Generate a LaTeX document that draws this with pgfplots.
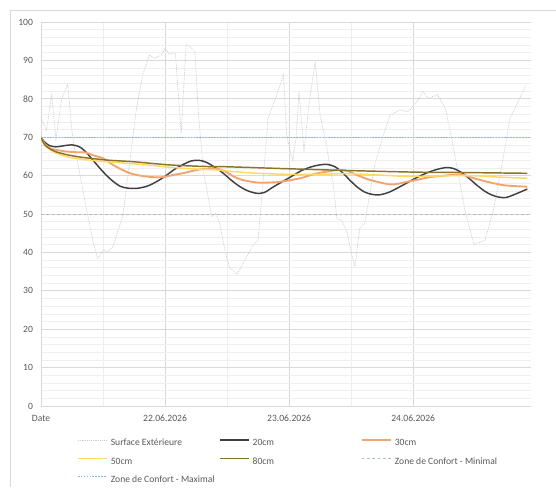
\documentclass[border=0pt]{standalone}
\usepackage{pgfplots}
\pgfplotsset{compat=1.18}
\usepackage{fontspec}
\setmainfont{Carlito}
\definecolor{txt}{HTML}{595959}
\definecolor{gmaj}{HTML}{D9D9D9}
\definecolor{gmin}{HTML}{EFEFEF}
\definecolor{csurf}{HTML}{CCCCCC}
\definecolor{c20}{HTML}{404040}
\definecolor{c30}{HTML}{F2A46F}
\definecolor{c50}{HTML}{FFD966}
\definecolor{c80}{HTML}{8C7426}
\definecolor{cmin}{HTML}{A9BCD9}
\definecolor{cmax}{HTML}{8DB8E6}
\begin{document}
\begin{tikzpicture}
\useasboundingbox (0pt,0pt) rectangle (417pt,365.25pt);
\draw[gmaj,line width=0.6pt] (7.5pt,0pt) -- (7.5pt,357.75pt) -- (417pt,357.75pt);
\begin{axis}[
  scale only axis,
  width=367.5pt, height=288pt,
  at={(30.75pt,60.75pt)}, anchor=south west,
  xmin=0, xmax=3.95, ymin=0, ymax=100,
  xtick={0,1,2,3},
  xticklabels={Date,22.06.2026,23.06.2026,24.06.2026},
  minor x tick num=1,
  ytick={0,10,...,100},
  minor y tick num=4,
  grid=both,
  major grid style={draw=gmaj,line width=0.6pt},
  minor grid style={draw=gmin,line width=0.5pt},
  axis lines*=left,
  axis line style={draw=gmaj,line width=0.6pt},
  major tick length=0pt, minor tick length=0pt,
  /pgf/number format/assume math mode=true,
  tick label style={font=\fontsize{7.2}{8.5}\selectfont, text=txt},
  yticklabel style={xshift=-2.5pt},
  xticklabel style={yshift=-3.5pt},
  legend columns=3,
  legend cell align=left,
  legend style={at={(axis description cs:0.073,-0.085)}, anchor=north west,
    draw=none, fill=none, inner sep=0pt,
    font=\fontsize{7.2}{8.5}\selectfont, text=txt,
    nodes={inner sep=0pt, text height=5.2pt, text depth=1.4pt},
    row sep=7.2pt,
    /tikz/every odd column/.append style={column sep=2.5pt}},
  legend image code/.code={\draw[#1] (0pt,2.5pt) -- (21.75pt,2.5pt);},
]
\addplot[csurf, line width=0.5pt, dash pattern=on 0.7pt off 0.7pt] coordinates {
(0,75) (0.045,71.9) (0.086,81.4) (0.12,69.5) (0.167,80.1) (0.215,83.8) (0.255,69.8)
(0.31,61) (0.36,52.3) (0.42,42.8) (0.457,38.3) (0.50,40.6) (0.54,40.2) (0.58,41.5)
(0.66,49.7) (0.74,69.8) (0.77,77.6) (0.82,86.2) (0.873,91.4) (0.914,90.5) (0.97,91.4)
(1.0,93.1) (1.035,91.6) (1.083,92) (1.13,71) (1.17,94.2) (1.20,93.6) (1.24,92.3)
(1.27,75.8) (1.31,61) (1.377,49.3) (1.41,50.2) (1.44,47.6) (1.48,41) (1.52,36)
(1.58,34.4) (1.63,37.2) (1.71,41.9) (1.75,43.2) (1.79,58.4) (1.83,74.9) (1.90,81)
(1.955,86.2) (1.98,70.6) (2.01,66.2) (2.03,64) (2.056,69.8) (2.08,82) (2.12,66.2)
(2.16,78.4) (2.21,89.7) (2.25,75.8) (2.30,68) (2.36,56.7) (2.385,48.7) (2.425,48.4)
(2.465,45.4) (2.506,39.3) (2.53,36.3) (2.57,46.3) (2.61,47.6) (2.69,62.8) (2.76,70.6)
(2.815,75.8) (2.895,77.1) (2.96,76.6) (3.03,79.3) (3.08,81.9) (3.12,80.1) (3.196,81.1)
(3.26,77.5) (3.31,69.7) (3.365,60.2) (3.42,50.6) (3.49,42.1) (3.55,42.8) (3.58,43.2)
(3.65,51.4) (3.73,65.4) (3.78,74.9) (3.84,78.8) (3.91,83.6)
};
\addlegendentry{\makebox[81pt][l]{Surface Extérieure}}
\addplot[c20, line width=1.1pt, smooth] coordinates {
(0,70) (0.03,68.7) (0.07,67.8) (0.12,67.5) (0.19,67.8) (0.25,68.0) (0.31,67.5)
(0.36,66.2) (0.43,63.6) (0.50,61.0) (0.57,58.8) (0.64,57.2) (0.71,56.7) (0.78,56.7)
(0.86,57.3) (0.93,58.4) (1.00,59.8) (1.07,61.5) (1.14,62.8) (1.21,63.8) (1.27,64.0)
(1.33,63.5) (1.40,62.2) (1.47,60.6) (1.53,58.9) (1.60,57.2) (1.67,56.0) (1.74,55.4)
(1.80,55.6) (1.87,57.0) (1.95,58.5) (2.03,60.0) (2.10,61.3) (2.18,62.3) (2.25,62.8)
(2.31,62.9) (2.37,62.3) (2.43,60.8) (2.49,58.8) (2.55,57.0) (2.61,55.7) (2.67,55.1)
(2.73,55.0) (2.80,55.6) (2.87,56.7) (2.95,58.1) (3.03,59.5) (3.11,60.7) (3.19,61.6)
(3.27,62.1) (3.33,61.8) (3.39,60.8) (3.45,59.3) (3.51,57.6) (3.57,56.1) (3.63,55.0)
(3.69,54.4) (3.75,54.3) (3.81,55.0) (3.87,55.8) (3.92,56.5)
};
\addlegendentry{\makebox[81pt][l]{20cm}}
\addplot[c30, line width=1.4pt, smooth] coordinates {
(0,70) (0.03,68.2) (0.08,67.0) (0.12,66.7) (0.2,66.3) (0.28,66.1) (0.36,66.0)
(0.42,65.3) (0.50,64.5) (0.57,63.0) (0.63,61.9) (0.72,60.6) (0.80,60.0) (0.90,59.6)
(0.98,59.6) (1.07,60.2) (1.14,60.6) (1.22,61.2) (1.30,61.7) (1.42,61.8) (1.50,60.8)
(1.55,59.8) (1.62,58.9) (1.74,58.2) (1.85,58.2) (1.93,58.4) (2.09,59.3) (2.20,60.4)
(2.28,60.9) (2.41,61.5) (2.49,61.0) (2.55,60.1) (2.66,58.8) (2.82,57.7) (2.94,58.3)
(3.06,59.1) (3.16,59.7) (3.38,60.3) (3.46,59.6) (3.57,58.6) (3.73,57.5) (3.92,57.1)
};
\addlegendentry{\makebox[81pt][l]{30cm}}
\addplot[c50, line width=1.1pt, smooth] coordinates {
(0,70) (0.03,68.0) (0.08,66.6) (0.12,65.9) (0.20,65.0) (0.30,64.4) (0.40,64.0)
(0.50,63.7) (0.65,63.3) (0.85,62.8) (1.03,62.2) (1.20,61.8) (1.40,61.5) (1.65,60.8)
(1.90,60.4) (2.20,60.3) (2.45,60.5) (2.70,60.2) (2.95,59.8) (3.2,59.9) (3.45,60.0)
(3.7,59.6) (3.92,59.3)
};
\addlegendentry{\makebox[81pt][l]{50cm}}
\addplot[c80, line width=1.1pt, smooth] coordinates {
(0,70) (0.03,68.0) (0.08,66.8) (0.12,66.2) (0.20,65.5) (0.30,64.9) (0.40,64.5)
(0.55,64.0) (0.75,63.6) (1.03,62.8) (1.30,62.4) (1.50,62.3) (1.98,61.8) (2.50,61.3)
(3.03,60.9) (3.40,60.8) (3.92,60.6)
};
\addlegendentry{\makebox[81pt][l]{80cm}}
\addplot[cmin, line width=0.8pt, dash pattern=on 2pt off 2pt] coordinates {(0,49.8) (3.95,49.8)};
\addlegendentry{\makebox[81pt][l]{Zone de Confort - Minimal}}
\addplot[cmax, line width=0.9pt, dash pattern=on 1.3pt off 0.9pt] coordinates {(0,70) (3.95,70)};
\addlegendentry{\makebox[81pt][l]{Zone de Confort - Maximal}}
\end{axis}
\end{tikzpicture}
\end{document}
